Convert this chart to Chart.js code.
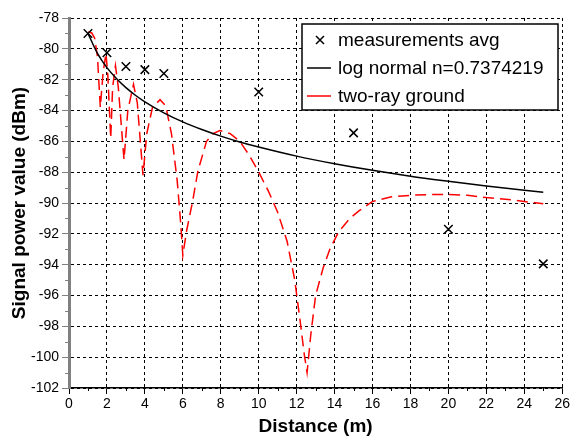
<!DOCTYPE html>
<html>
<head>
<meta charset="utf-8">
<script src="https://cdn.jsdelivr.net/npm/chart.js@4/dist/chart.umd.min.js"></script>
<style>
  body { margin: 0; background: #fff; }
</style>
</head>
<body>
<canvas id="myChart" width="572" height="438"></canvas>
<script>
// measured averages
const distances = [1, 2, 3, 4, 5, 10, 15, 20, 25]
const measuredAvg = [-79.0, -80.25, -81.15, -81.35, -81.6, -82.8, -85.45, -91.7, -93.95]

// log normal fit
const logX = [1, 1.5, 2, 2.5, 3, 3.5, 4, 5, 6, 7, 8, 9, 10, 12, 14, 16, 18, 20, 22, 25]
const logY = [-79.0, -80.3, -81.22, -81.93, -82.52, -83.01, -83.44, -84.15, -84.74, -85.23,
              -85.66, -86.04, -86.37, -86.96, -87.45, -87.88, -88.26, -88.59, -88.9, -89.31]

// two-ray ground model
const twoRayX = [1.0, 1.2, 1.35, 1.5, 1.65, 1.8, 1.95, 2.05, 2.2, 2.3, 2.45, 2.6, 2.9, 3.1, 3.4,
                 3.6, 3.9, 4.1, 4.4, 4.8, 5.1, 5.4, 5.7, 5.9, 6.0, 6.2, 6.5, 6.8, 7.25, 7.6,
                 7.95, 8.5, 9.0, 9.5, 10.0, 10.5, 11.0, 11.5, 11.9, 12.2, 12.4, 12.55, 12.75, 13.0,
                 13.4, 13.75, 14.2, 14.8, 15.3, 16.0, 17.0, 18.0, 19.0, 20.0, 21.0, 22.0, 23.0,
                 24.0, 25.0]
const twoRayY = [-78.9, -78.97, -79.3, -80.5, -83.8, -81.5, -80.3, -81.8, -85.8, -82.5, -81.1,
                 -82.5, -87.2, -84.0, -82.3, -83.5, -88.2, -85.5, -83.8, -83.3, -83.7, -85.5,
                 -88.5, -91.5, -93.4, -91.8, -90.0, -87.9, -86.0, -85.5, -85.3, -85.5, -86.0,
                 -86.9, -88.0, -89.2, -90.6, -92.5, -95.0, -97.8, -99.8, -101.0, -98.5, -96.0,
                 -94.2, -93.0, -91.9, -91.0, -90.5, -89.9, -89.6, -89.5, -89.45, -89.45, -89.5,
                 -89.65, -89.75, -89.9, -90.05]

const legendLabels = ['measurements avg', 'log normal n=0.7374219', 'two-ray ground']

const pairs = (xs, ys) => xs.map((x, i) => ({x: x, y: ys[i]}))
const FONT = '"Liberation Sans", Arial, sans-serif'

// minor ticks + boxed legend inside the plot
const extras = {
    id: 'extras',
    afterDraw(chart) {
        const c = chart.ctx
        const xs = chart.scales.x, ys = chart.scales.y
        const area = chart.chartArea
        c.save()
        c.strokeStyle = '#000'
        c.lineWidth = 1
        c.beginPath()
        for (let v = 1; v < 26; v += 2) {
            const px = Math.round(xs.getPixelForValue(v)) + 0.5
            c.moveTo(px, area.bottom)
            c.lineTo(px, area.bottom + 3)
        }
        c.stroke()
        c.strokeStyle = '#808080'
        c.beginPath()
        for (let v = -79; v >= -101; v -= 2) {
            const py = Math.round(ys.getPixelForValue(v)) + 0.5
            c.moveTo(area.left - 4, py)
            c.lineTo(area.left, py)
        }
        c.stroke()

        // legend box
        const bx = 302, by = 24, bw = 256, bh = 86
        c.fillStyle = '#fff'
        c.fillRect(bx, by, bw, bh)
        c.strokeStyle = '#000'
        c.lineWidth = 1.5
        c.strokeRect(bx, by, bw, bh)

        c.font = '19px ' + FONT
        c.fillStyle = '#000'
        c.textBaseline = 'middle'
        const rows = [40, 68, 96]
        // cross marker
        c.lineWidth = 1.5
        c.beginPath()
        c.moveTo(316, rows[0] - 4); c.lineTo(324, rows[0] + 4)
        c.moveTo(316, rows[0] + 4); c.lineTo(324, rows[0] - 4)
        c.stroke()
        // lines
        c.beginPath()
        c.moveTo(307, rows[1]); c.lineTo(331, rows[1])
        c.stroke()
        c.strokeStyle = '#ff0000'
        c.beginPath()
        c.moveTo(307, rows[2]); c.lineTo(331, rows[2])
        c.stroke()
        legendLabels.forEach((t, i) => c.fillText(t, 338, rows[i] + 1))
        c.restore()
    }
}

const ctx = document.getElementById('myChart')
const chart = new Chart(ctx, {
    type: 'scatter',
    data: {
        datasets: [
            {
                label: legendLabels[0],
                data: pairs(distances, measuredAvg),
                pointStyle: 'crossRot',
                pointRadius: 6,
                pointBorderWidth: 1.5,
                borderColor: '#000',
                backgroundColor: '#000',
                showLine: false,
                order: 0
            },
            {
                label: legendLabels[1],
                data: pairs(logX, logY),
                showLine: true,
                borderColor: '#000',
                borderWidth: 1.5,
                pointRadius: 0,
                cubicInterpolationMode: 'monotone',
                order: 1
            },
            {
                label: legendLabels[2],
                data: pairs(twoRayX, twoRayY),
                showLine: true,
                borderColor: '#ff0000',
                borderWidth: 1.5,
                borderDash: [11, 6],
                pointRadius: 0,
                tension: 0,
                order: 2
            }
        ]
    },
    options: {
        responsive: false,
        animation: false,
        layout: { padding: { top: 18, right: 9, left: 0, bottom: 0 } },
        plugins: {
            legend: { display: false },
            tooltip: { enabled: false }
        },
        scales: {
            x: {
                type: 'linear',
                min: 0,
                max: 26,
                afterFit: (s) => { s.height = 50 },
                ticks: { stepSize: 2, color: '#000', font: { family: FONT, size: 14 }, padding: 2 },
                grid: { color: '#000', lineWidth: 1, tickLength: 6, tickColor: '#000' },
                border: { color: '#000', width: 1.5, dash: [3, 3] },
                title: {
                    display: true, text: 'Distance (m)', color: '#000',
                    font: { family: FONT, size: 19, weight: 'bold' }, padding: { top: 6, bottom: 0 }
                }
            },
            y: {
                min: -102,
                max: -78,
                afterFit: (s) => { s.width = 69 },
                ticks: { stepSize: 2, color: '#000', font: { family: FONT, size: 14 }, padding: 3 },
                grid: { color: '#000', lineWidth: 1, tickLength: 7, tickColor: '#808080' },
                border: { color: '#808080', width: 3, dash: [3, 3] },
                title: {
                    display: true, text: 'Signal power value (dBm)', color: '#000',
                    font: { family: FONT, size: 19, weight: 'bold' }, padding: { top: 8, bottom: 0 }
                }
            }
        }
    },
    plugins: [extras]
})
</script>
</body>
</html>
